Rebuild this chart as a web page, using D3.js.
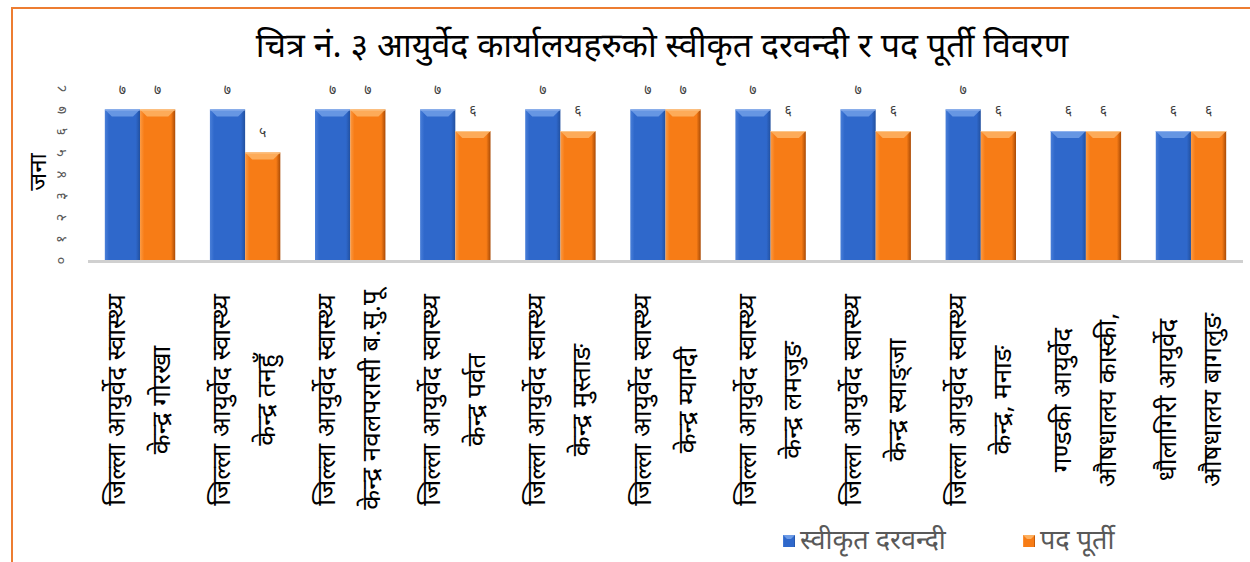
<!DOCTYPE html>
<html>
<head>
<meta charset="utf-8">
<script src="https://cdn.jsdelivr.net/npm/d3@7"></script>
<style>
  body { margin: 0; background: #fff; }
  text { font-family: "Noto Sans Devanagari", "Lohit Devanagari", "Noto Sans", sans-serif; }
</style>
</head>
<body>
<div id="chart"></div>
<script>
const width = 1250;
const height = 562;

const title = "चित्र नं. ३ आयुर्वेद कार्यालयहरुको स्वीकृत दरवन्दी र पद पूर्ती विवरण";
const yTitle = "जना";

// each category is two lines of label text
const categories = [
  ["जिल्ला आयुर्वेद स्वास्थ्य", "केन्द्र गोरखा"],
  ["जिल्ला आयुर्वेद स्वास्थ्य", "केन्द्र तनहुँ"],
  ["जिल्ला आयुर्वेद स्वास्थ्य", "केन्द्र नवलपरासी ब.सु.पू"],
  ["जिल्ला आयुर्वेद स्वास्थ्य", "केन्द्र पर्वत"],
  ["जिल्ला आयुर्वेद स्वास्थ्य", "केन्द्र मुस्ताङ"],
  ["जिल्ला आयुर्वेद स्वास्थ्य", "केन्द्र म्याग्दी"],
  ["जिल्ला आयुर्वेद स्वास्थ्य", "केन्द्र लमजुङ"],
  ["जिल्ला आयुर्वेद स्वास्थ्य", "केन्द्र स्याङ्जा"],
  ["जिल्ला आयुर्वेद स्वास्थ्य", "केन्द्र, मनाङ"],
  ["गण्डकी आयुर्वेद", "औषधालय कास्की,"],
  ["धौलागिरी आयुर्वेद", "औषधालय बागलुङ"]
];
const sanctioned = [7, 7, 7, 7, 7, 7, 7, 7, 7, 6, 6];
const filled = [7, 5, 7, 6, 6, 7, 6, 6, 6, 6, 6];
const seriesNames = ["स्वीकृत दरवन्दी", "पद पूर्ती"];
const yTicks = [0, 1, 2, 3, 4, 5, 6, 7, 8];

const devDigits = "०१२३४५६७८९";
const toDev = n => String(n).replace(/[0-9]/g, d => devDigits[+d]);

const svg = d3.select("#chart").append("svg")
  .attr("width", width)
  .attr("height", height);

const defs = svg.append("defs");
function barGradient(id, dark, mid, light) {
  const g = defs.append("linearGradient").attr("id", id)
    .attr("x1", "0%").attr("x2", "100%").attr("y1", "0%").attr("y2", "0%");
  g.append("stop").attr("offset", "0%").attr("stop-color", light);
  g.append("stop").attr("offset", "12%").attr("stop-color", mid);
  g.append("stop").attr("offset", "88%").attr("stop-color", mid);
  g.append("stop").attr("offset", "100%").attr("stop-color", dark);
}
barGradient("gBlue", "#22509f", "#2f68cb", "#4a7fd8");
barGradient("gOrange", "#a94a05", "#f77c16", "#fb9a44");

const colors = [
  { fill: "url(#gBlue)", bevel: "#6d9be6", edge: "#8fb2ee" },
  { fill: "url(#gOrange)", bevel: "#fdb060", edge: "#fcc68a" }
];

// frame
svg.append("rect")
  .attr("x", 12).attr("y", 8)
  .attr("width", width + 20).attr("height", height + 20)
  .attr("fill", "none")
  .attr("stroke", "#ed7d31")
  .attr("stroke-width", 2);

svg.append("text")
  .attr("x", 662).attr("y", 57)
  .attr("text-anchor", "middle")
  .attr("font-size", 34)
  .attr("fill", "#000")
  .text(title);

const plotBottom = 260;

const x0 = d3.scaleBand()
  .domain(d3.range(categories.length))
  .range([88, 1243])
  .paddingInner(0.33)
  .paddingOuter(0.16);

const x1 = d3.scaleBand()
  .domain([0, 1])
  .range([0, x0.bandwidth()]);

const y = d3.scaleLinear()
  .domain([0, 8])
  .range([plotBottom, 88]);

// y tick labels, rotated like the source
const yAxis = svg.append("g")
  .attr("transform", "translate(70,0)")
  .call(d3.axisLeft(y).tickValues(yTicks).tickSize(0).tickFormat(toDev));
yAxis.select(".domain").remove();
yAxis.selectAll("text")
  .attr("font-size", 15)
  .attr("fill", "#595959")
  .attr("text-anchor", "middle")
  .attr("dominant-baseline", "middle")
  .attr("dy", 0)
  .attr("x", 0).attr("y", -8)
  .attr("transform", "rotate(-90)");

svg.append("text")
  .attr("transform", "translate(46,172) rotate(-90)")
  .attr("text-anchor", "middle")
  .attr("font-size", 24)
  .attr("fill", "#000")
  .text(yTitle);

// bars
const groups = svg.append("g").selectAll("g")
  .data(categories.map((c, i) => ({ i, values: [sanctioned[i], filled[i]] })))
  .join("g")
  .attr("transform", d => `translate(${x0(d.i)},0)`);

groups.each(function(d) {
  const g = d3.select(this);
  d.values.forEach((v, s) => {
    const bx = x1(s), bw = x1.bandwidth(), by = y(v), bh = plotBottom - y(v);
    const c = colors[s];
    g.append("rect")
      .attr("x", bx).attr("y", by)
      .attr("width", bw).attr("height", bh)
      .attr("fill", c.fill);
    const bev = 7;
    g.append("path")
      .attr("d", `M${bx},${by} L${bx + bw},${by} L${bx + bw - bev},${by + bev} L${bx + bev},${by + bev} Z`)
      .attr("fill", c.bevel)
      .attr("opacity", 0.9);
    g.append("line")
      .attr("x1", bx).attr("x2", bx + bw)
      .attr("y1", by + 0.5).attr("y2", by + 0.5)
      .attr("stroke", c.edge).attr("stroke-width", 1);
    g.append("text")
      .attr("x", bx + bw / 2)
      .attr("y", by - 16)
      .attr("text-anchor", "middle")
      .attr("font-size", 14)
      .attr("fill", "#404040")
      .text(toDev(v));
  });
});

// x axis line
svg.append("line")
  .attr("x1", 88).attr("x2", 1243)
  .attr("y1", plotBottom + 1.5).attr("y2", plotBottom + 1.5)
  .attr("stroke", "#d0d0d0").attr("stroke-width", 3);

// category labels, rotated, two lines
const labelMid = 400;
const labels = svg.append("g").selectAll("g")
  .data(categories)
  .join("g")
  .attr("transform", (d, i) => `translate(${x0(i) + x0.bandwidth() / 2},${labelMid}) rotate(-90)`);
labels.selectAll("text")
  .data(d => d)
  .join("text")
  .attr("x", 0)
  .attr("y", (d, k) => (k === 0 ? -15 : 30))
  .attr("text-anchor", "middle")
  .attr("font-size", 26)
  .attr("fill", "#000")
  .text(d => d);

// legend
const legend = svg.append("g").attr("transform", "translate(783,535)");
const legendX = [0, 240];
seriesNames.forEach((name, s) => {
  const lg = legend.append("g").attr("transform", `translate(${legendX[s]},0)`);
  lg.append("rect").attr("width", 12).attr("height", 12).attr("fill", colors[s].fill);
  lg.append("path").attr("d", "M0,0 L12,0 L8,4 L4,4 Z").attr("fill", colors[s].bevel);
  lg.append("text")
    .attr("x", 17).attr("y", 14)
    .attr("font-size", 27)
    .attr("fill", "#595959")
    .text(name);
});
</script>
</body>
</html>
